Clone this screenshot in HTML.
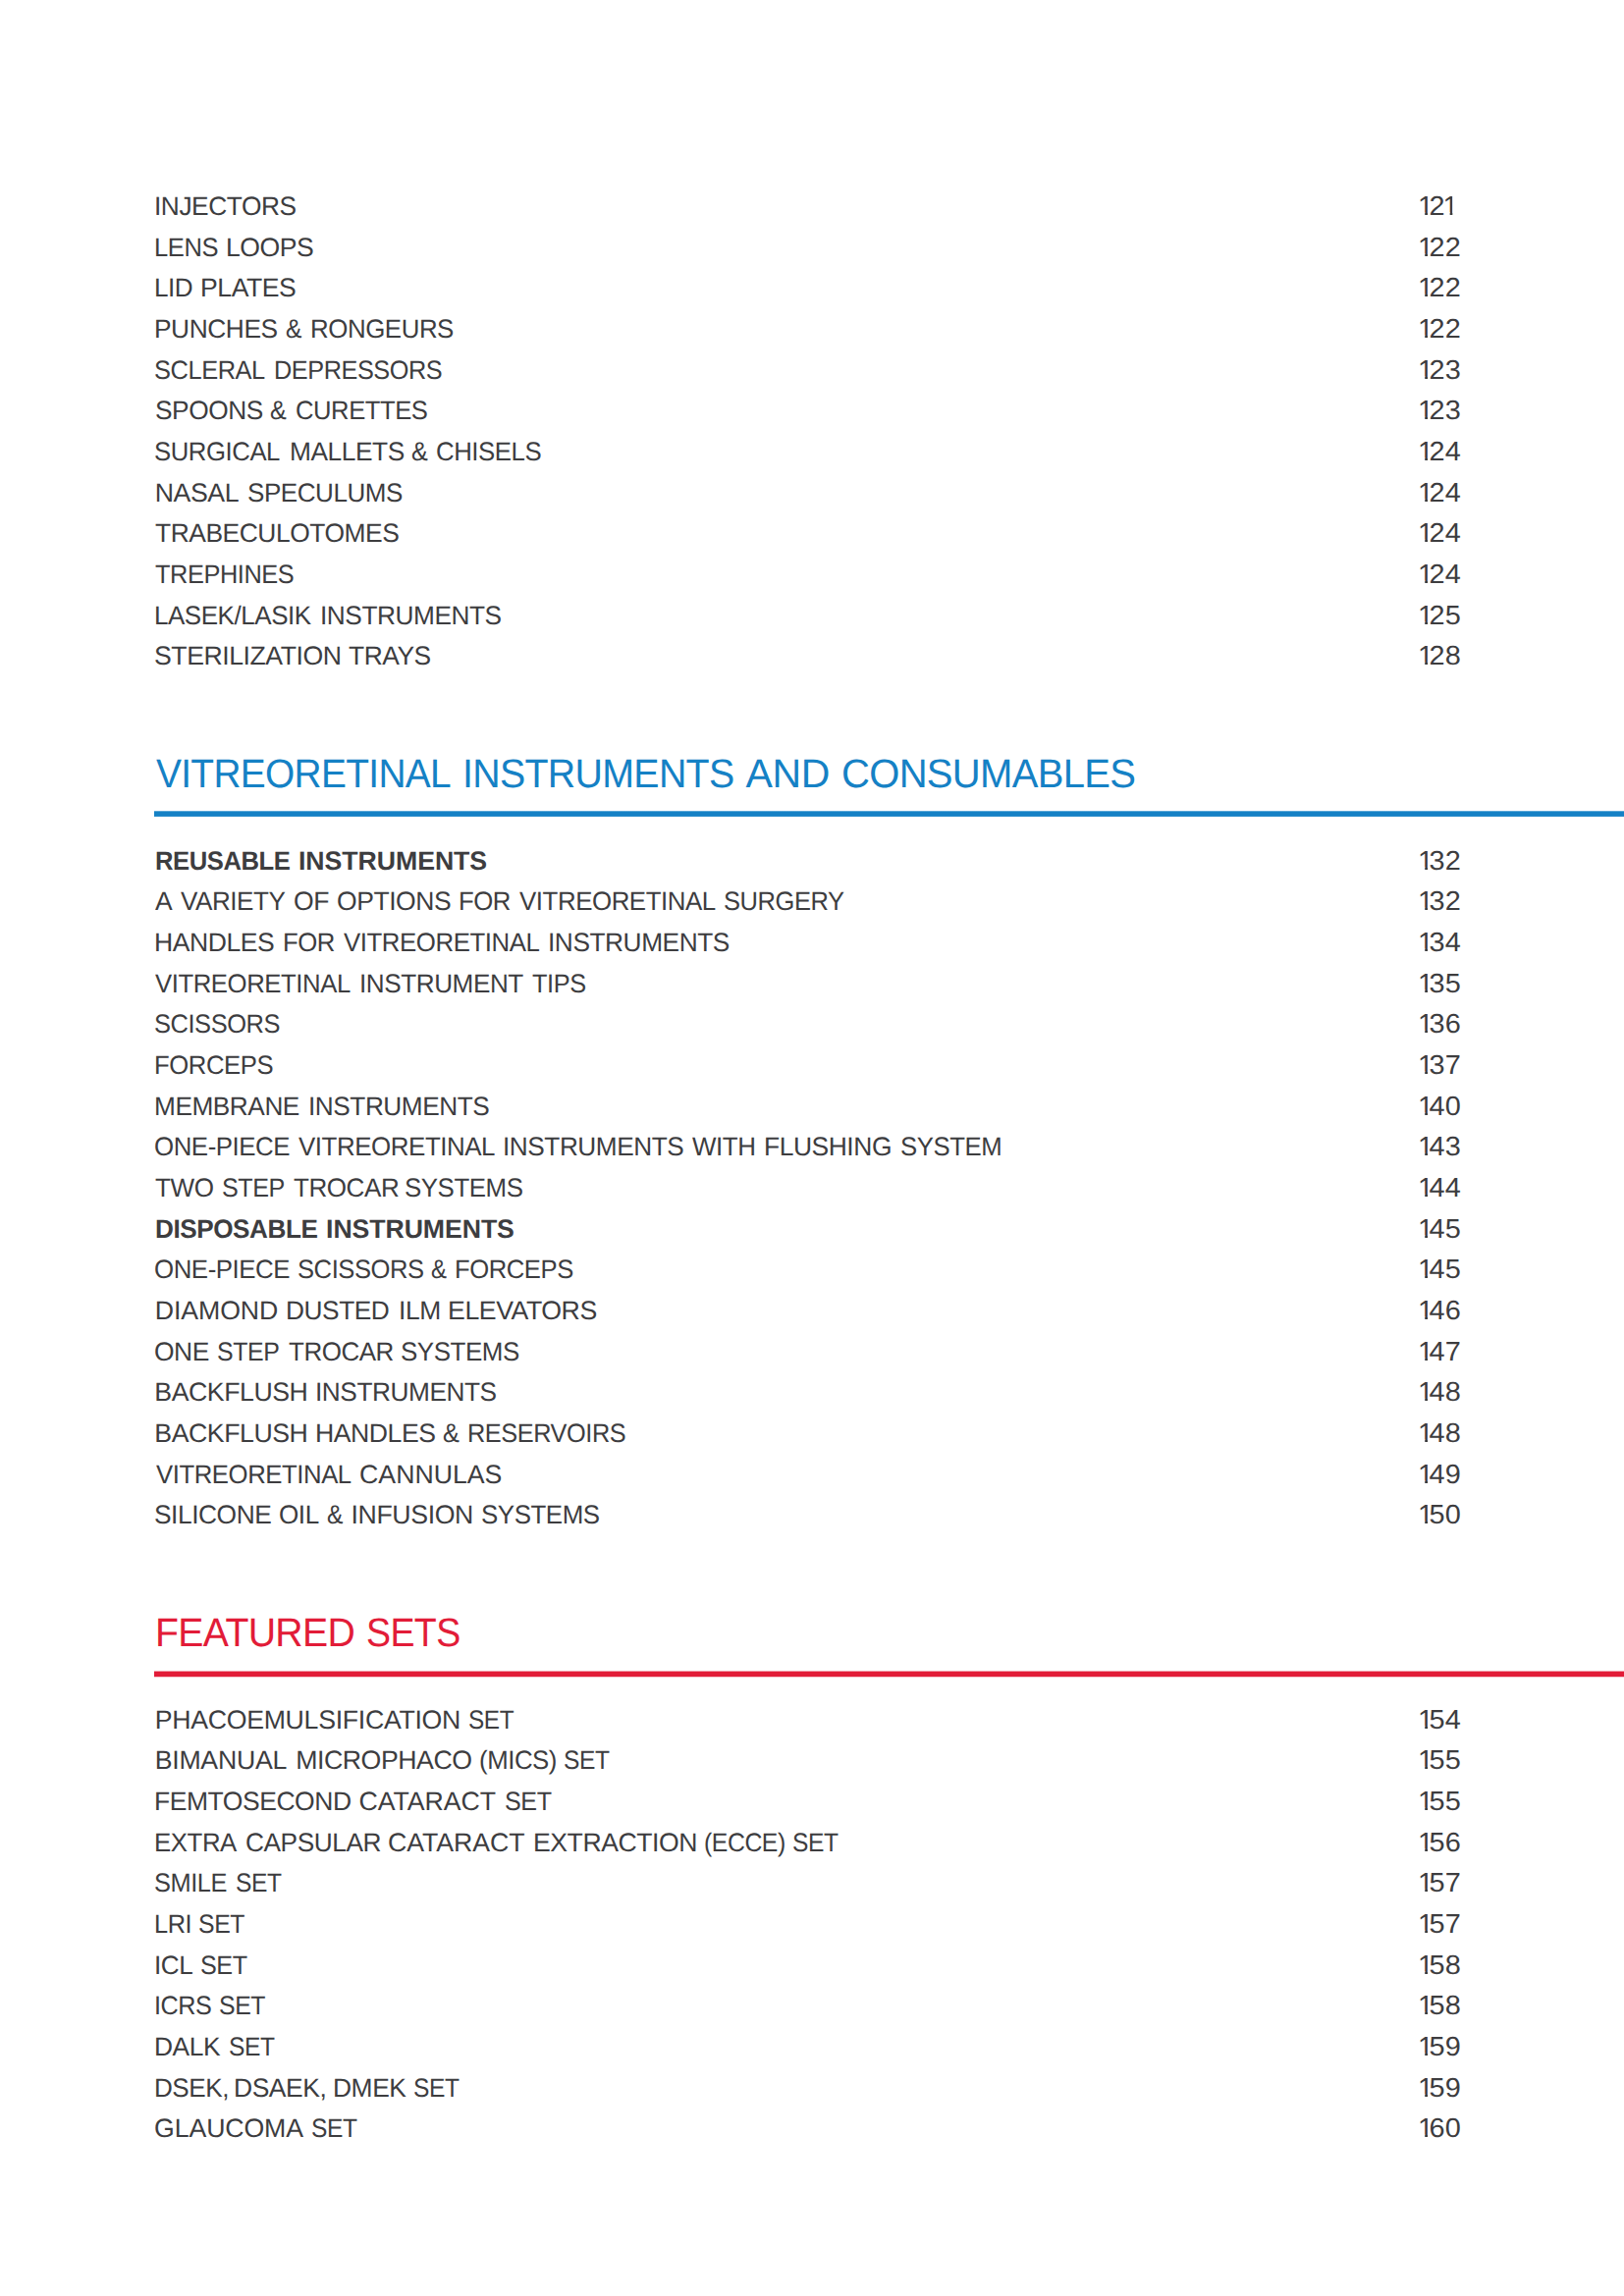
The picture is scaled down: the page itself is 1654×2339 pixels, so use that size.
<!DOCTYPE html>
<html lang="en"><head><meta charset="utf-8"><title>Contents</title>
<style>
html,body{margin:0;padding:0;background:#fff;}
body{width:1654px;height:2339px;position:relative;overflow:hidden;font-family:"Liberation Sans",Arial,sans-serif;color:#3d3d3f;text-rendering:geometricPrecision;}
.r{position:absolute;left:0;width:1654px;height:42px;line-height:42px;font-size:26.70px;white-space:nowrap;}
.r .t{position:absolute;left:157.70px;top:0;}
.r .n{position:absolute;left:1444.1px;top:0;font-size:27.50px;letter-spacing:0.35px;transform:scaleX(1.05);transform-origin:0 0;}
.o{display:inline-block;width:10.9px;clip-path:polygon(-2px 0,9.55px 0,9.55px 100%,6.85px 100%,6.85px 27.3px,-2px 27.3px);}
.o.e{margin-left:-2.3px;}
.b{font-weight:bold;}
.x{display:inline-block;transform-origin:0 50%;}
.h{position:absolute;left:158.00px;height:60px;line-height:60px;font-size:41.00px;white-space:nowrap;}
.rule{position:absolute;left:157px;right:0;}
</style></head><body>
<div class="r" style="top:188.94px"><span class="t"><span class="x" style="letter-spacing:-0.45px;margin-left:-0.51px;transform:scaleX(0.9851)">INJECTORS</span></span><span class="n"><span class="o">1</span>2<span class="o e">1</span></span></div>
<div class="r" style="top:230.61px"><span class="t"><span class="x" style="letter-spacing:-0.45px;margin-left:-1.00px;transform:scaleX(0.9570)">LENS</span> <span class="x" style="letter-spacing:-0.45px;margin-left:-2.04px;transform:scaleX(0.9959)">LOOPS</span></span><span class="n"><span class="o">1</span>22</span></div>
<div class="r" style="top:272.28px"><span class="t"><span class="x" style="letter-spacing:-0.45px;margin-left:-1.00px;transform:scaleX(0.9774)">LID</span> <span class="x" style="letter-spacing:-0.45px;margin-left:-0.64px;transform:scaleX(0.9963)">PLATES</span></span><span class="n"><span class="o">1</span>22</span></div>
<div class="r" style="top:313.94px"><span class="t"><span class="x" style="letter-spacing:-0.45px;margin-left:-1.00px;transform:scaleX(0.9865)">PUNCHES</span> <span class="x" style="letter-spacing:-0.40px;margin-left:-0.73px;transform:scaleX(0.9198)">&amp;</span> <span class="x" style="letter-spacing:-0.45px;margin-left:0.16px;transform:scaleX(0.9689)">RONGEURS</span></span><span class="n"><span class="o">1</span>22</span></div>
<div class="r" style="top:355.61px"><span class="t"><span class="x" style="letter-spacing:-0.45px;margin-left:-0.84px;transform:scaleX(0.9523)">SCLERAL</span> <span class="x" style="letter-spacing:-0.45px;margin-left:-4.19px;transform:scaleX(0.9465)">DEPRESSORS</span></span><span class="n"><span class="o">1</span>23</span></div>
<div class="r" style="top:397.28px"><span class="t"><span class="x" style="letter-spacing:-0.45px;transform:scaleX(0.9842)">SPOONS</span> <span class="x" style="letter-spacing:-0.40px;margin-left:-1.65px;transform:scaleX(0.9392)">&amp;</span> <span class="x" style="letter-spacing:-0.45px;margin-left:0.95px;transform:scaleX(0.9593)">CURETTES</span></span><span class="n"><span class="o">1</span>23</span></div>
<div class="r" style="top:438.94px"><span class="t"><span class="x" style="letter-spacing:-0.45px;margin-left:-0.22px;transform:scaleX(0.9633)">SURGICAL</span> <span class="x" style="letter-spacing:-0.45px;margin-left:-2.99px;transform:scaleX(0.9855)">MALLETS</span> <span class="x" style="letter-spacing:-0.40px;margin-left:-1.44px;transform:scaleX(0.9412)">&amp;</span> <span class="x" style="letter-spacing:-0.45px;margin-left:0.12px;transform:scaleX(0.9661)">CHISELS</span></span><span class="n"><span class="o">1</span>24</span></div>
<div class="r" style="top:480.61px"><span class="t"><span style="letter-spacing:-0.40px">NASAL</span> <span class="x" style="letter-spacing:-0.45px;margin-left:1.24px;transform:scaleX(0.9745)">SPECULUMS</span></span><span class="n"><span class="o">1</span>24</span></div>
<div class="r" style="top:522.28px"><span class="t"><span class="x" style="letter-spacing:-0.45px;margin-left:0.73px;transform:scaleX(0.9888)">TRABECULOTOMES</span></span><span class="n"><span class="o">1</span>24</span></div>
<div class="r" style="top:563.94px"><span class="t"><span class="x" style="letter-spacing:-0.45px;margin-left:0.52px;transform:scaleX(0.9502)">TREPHINES</span></span><span class="n"><span class="o">1</span>24</span></div>
<div class="r" style="top:605.61px"><span class="t"><span class="x" style="letter-spacing:-0.45px;margin-left:-1.00px;transform:scaleX(0.9725)">LASEK/LASIK</span> <span class="x" style="letter-spacing:-0.45px;margin-left:-2.51px;transform:scaleX(0.9834)">INSTRUMENTS</span></span><span class="n"><span class="o">1</span>25</span></div>
<div class="r" style="top:647.28px"><span class="t"><span class="x" style="letter-spacing:-0.45px;margin-left:-0.90px;transform:scaleX(0.9980)">STERILIZATION</span> <span class="x" style="letter-spacing:-0.45px;margin-left:0.26px;transform:scaleX(0.9881)">TRAYS</span></span><span class="n"><span class="o">1</span>28</span></div>
<div class="h" style="top:757.92px;color:#1581c5"><span class="x" style="letter-spacing:-0.70px;margin-left:0.98px;transform:scaleX(0.9474)">VITREORETINAL</span> <span class="x" style="letter-spacing:-0.70px;margin-left:-15.95px;transform:scaleX(0.9586)">INSTRUMENTS</span> <span style="letter-spacing:-0.42px;margin-left:-11.35px">AND</span> <span class="x" style="letter-spacing:-0.70px;margin-left:0.65px;transform:scaleX(0.9758)">CONSUMABLES</span></div>
<div class="rule" style="top:826px;height:6px;background:linear-gradient(to bottom,rgba(21,129,197,0.70) 0 1px,rgb(21,129,197) 1px 5px,rgba(21,129,197,0.90) 5px 6px)"></div>
<div class="r" style="top:855.61px"><span class="t b"><span class="x" style="letter-spacing:-0.45px;transform:scaleX(0.9601)">REUSABLE</span> <span style="letter-spacing:-0.06px;margin-left:-4.30px">INSTRUMENTS</span></span><span class="n"><span class="o">1</span>32</span></div>
<div class="r" style="top:897.28px"><span class="t"><span class="x" style="letter-spacing:-0.40px;margin-left:0.77px;transform:scaleX(0.9908)">A</span> <span class="x" style="letter-spacing:-0.45px;margin-left:0.43px;transform:scaleX(0.9752)">VARIETY</span> <span class="x" style="letter-spacing:-0.45px;margin-left:-1.67px;transform:scaleX(0.9943)">OF</span> <span class="x" style="letter-spacing:-0.45px;margin-left:0.47px;transform:scaleX(0.9932)">OPTIONS</span> <span class="x" style="letter-spacing:-0.45px;margin-left:-0.20px;transform:scaleX(0.9643)">FOR</span> <span class="x" style="letter-spacing:-0.45px;margin-left:0.15px;transform:scaleX(0.9688)">VITREORETINAL</span> <span class="x" style="letter-spacing:-0.45px;margin-left:-6.02px;transform:scaleX(0.9547)">SURGERY</span></span><span class="n"><span class="o">1</span>32</span></div>
<div class="r" style="top:938.94px"><span class="t"><span class="x" style="letter-spacing:-0.45px;margin-left:-0.53px;transform:scaleX(0.9941)">HANDLES</span> <span class="x" style="letter-spacing:-0.45px;margin-left:0.89px;transform:scaleX(0.9637)">FOR</span> <span class="x" style="letter-spacing:-0.45px;margin-left:-1.08px;transform:scaleX(0.9672)">VITREORETINAL</span> <span class="x" style="letter-spacing:-0.45px;margin-left:-5.46px;transform:scaleX(0.9844)">INSTRUMENTS</span></span><span class="n"><span class="o">1</span>34</span></div>
<div class="r" style="top:980.61px"><span class="t"><span class="x" style="letter-spacing:-0.45px;margin-left:0.33px;transform:scaleX(0.9641)">VITREORETINAL</span> <span class="x" style="letter-spacing:-0.45px;margin-left:-5.96px;transform:scaleX(0.9789)">INSTRUMENT</span> <span class="x" style="letter-spacing:-0.45px;margin-left:-1.55px;transform:scaleX(0.9497)">TIPS</span></span><span class="n"><span class="o">1</span>35</span></div>
<div class="r" style="top:1022.28px"><span class="t"><span class="x" style="letter-spacing:-0.45px;margin-left:-0.21px;transform:scaleX(0.9528)">SCISSORS</span></span><span class="n"><span class="o">1</span>36</span></div>
<div class="r" style="top:1063.94px"><span class="t"><span class="x" style="letter-spacing:-0.45px;margin-left:-1.00px;transform:scaleX(0.9623)">FORCEPS</span></span><span class="n"><span class="o">1</span>37</span></div>
<div class="r" style="top:1105.61px"><span class="t"><span class="x" style="letter-spacing:-0.45px;margin-left:-0.66px;transform:scaleX(0.9821)">MEMBRANE</span> <span class="x" style="letter-spacing:-0.45px;margin-left:-1.28px;transform:scaleX(0.9813)">INSTRUMENTS</span></span><span class="n"><span class="o">1</span>40</span></div>
<div class="r" style="top:1147.28px"><span class="t"><span class="x" style="letter-spacing:-0.45px;margin-left:-0.63px;transform:scaleX(0.9675)">ONE-PIECE</span> <span class="x" style="letter-spacing:-0.45px;margin-left:-3.72px;transform:scaleX(0.9703)">VITREORETINAL</span> <span class="x" style="letter-spacing:-0.45px;margin-left:-5.05px;transform:scaleX(0.9814)">INSTRUMENTS</span> <span class="x" style="letter-spacing:-0.45px;margin-left:-2.26px;transform:scaleX(0.9715)">WITH</span> <span class="x" style="letter-spacing:-0.45px;margin-left:-0.65px;transform:scaleX(0.9898)">FLUSHING</span> <span class="x" style="letter-spacing:-0.45px;margin-left:-0.42px;transform:scaleX(0.9638)">SYSTEM</span></span><span class="n"><span class="o">1</span>43</span></div>
<div class="r" style="top:1188.94px"><span class="t"><span class="x" style="letter-spacing:-0.45px;margin-left:0.76px;transform:scaleX(0.9765)">TWO</span> <span class="x" style="letter-spacing:-0.45px;margin-left:-1.16px;transform:scaleX(0.9418)">STEP</span> <span class="x" style="letter-spacing:-0.45px;margin-left:-2.17px;transform:scaleX(0.9751)">TROCAR</span> <span class="x" style="letter-spacing:-0.45px;margin-left:-4.20px;transform:scaleX(0.9685)">SYSTEMS</span></span><span class="n"><span class="o">1</span>44</span></div>
<div class="r" style="top:1230.61px"><span class="t b"><span class="x" style="letter-spacing:-0.45px;transform:scaleX(0.9788)">DISPOSABLE</span> <span style="letter-spacing:-0.09px;margin-left:-2.04px">INSTRUMENTS</span></span><span class="n"><span class="o">1</span>45</span></div>
<div class="r" style="top:1272.28px"><span class="t"><span class="x" style="letter-spacing:-0.45px;margin-left:-0.63px;transform:scaleX(0.9675)">ONE-PIECE</span> <span class="x" style="letter-spacing:-0.45px;margin-left:-4.42px;transform:scaleX(0.9576)">SCISSORS</span> <span class="x" style="letter-spacing:-0.40px;margin-left:-5.18px;transform:scaleX(0.8956)">&amp;</span> <span class="x" style="letter-spacing:-0.45px;margin-left:-1.10px;transform:scaleX(0.9600)">FORCEPS</span></span><span class="n"><span class="o">1</span>45</span></div>
<div class="r" style="top:1313.94px"><span class="t"><span style="letter-spacing:-0.07px">DIAMOND</span> <span class="x" style="letter-spacing:-0.45px;margin-left:0.73px;transform:scaleX(0.9843)">DUSTED</span> <span class="x" style="letter-spacing:-0.45px;margin-left:-0.34px;transform:scaleX(0.9900)">ILM</span> <span style="letter-spacing:-0.45px;margin-left:0.01px">ELEVATORS</span></span><span class="n"><span class="o">1</span>46</span></div>
<div class="r" style="top:1355.61px"><span class="t"><span class="x" style="letter-spacing:-0.45px;margin-left:-0.67px;transform:scaleX(0.9899)">ONE</span> <span class="x" style="letter-spacing:-0.45px;margin-left:-0.18px;transform:scaleX(0.9328)">STEP</span> <span class="x" style="letter-spacing:-0.45px;margin-left:-2.46px;transform:scaleX(0.9722)">TROCAR</span> <span class="x" style="letter-spacing:-0.45px;margin-left:-3.32px;transform:scaleX(0.9715)">SYSTEMS</span></span><span class="n"><span class="o">1</span>47</span></div>
<div class="r" style="top:1397.28px"><span class="t"><span style="letter-spacing:-0.45px;margin-left:-0.39px">BACKFLUSH</span> <span class="x" style="letter-spacing:-0.45px;margin-left:-0.30px;transform:scaleX(0.9833)">INSTRUMENTS</span></span><span class="n"><span class="o">1</span>48</span></div>
<div class="r" style="top:1438.94px"><span class="t"><span style="letter-spacing:-0.45px;margin-left:-0.39px">BACKFLUSH</span> <span class="x" style="letter-spacing:-0.45px;margin-left:-0.35px;transform:scaleX(0.9969)">HANDLES</span> <span class="x" style="letter-spacing:-0.40px;margin-left:0.05px;transform:scaleX(0.9471)">&amp;</span> <span class="x" style="letter-spacing:-0.45px;margin-left:0.13px;transform:scaleX(0.9480)">RESERVOIRS</span></span><span class="n"><span class="o">1</span>48</span></div>
<div class="r" style="top:1480.61px"><span class="t"><span class="x" style="letter-spacing:-0.45px;margin-left:1.00px;transform:scaleX(0.9638)">VITREORETINAL</span> <span style="letter-spacing:0.00px;margin-left:-6.26px">CANNULAS</span></span><span class="n"><span class="o">1</span>49</span></div>
<div class="r" style="top:1522.28px"><span class="t"><span class="x" style="letter-spacing:-0.45px;margin-left:-0.70px;transform:scaleX(0.9862)">SILICONE</span> <span class="x" style="letter-spacing:-0.45px;margin-left:-1.73px;transform:scaleX(0.9776)">OIL</span> <span class="x" style="letter-spacing:-0.40px;margin-left:0.20px;transform:scaleX(0.9198)">&amp;</span> <span style="letter-spacing:-0.40px;margin-left:-0.22px">INFUSION</span> <span class="x" style="letter-spacing:-0.45px;margin-left:1.00px;transform:scaleX(0.9697)">SYSTEMS</span></span><span class="n"><span class="o">1</span>50</span></div>
<div class="h" style="top:1632.92px;color:#e21c38"><span class="x" style="letter-spacing:-0.70px;margin-left:-0.43px;transform:scaleX(0.9571)">FEATURED</span> <span class="x" style="letter-spacing:-0.70px;margin-left:-8.38px;transform:scaleX(0.9164)">SETS</span></div>
<div class="rule" style="top:1702px;height:7px;background:linear-gradient(to bottom,rgba(226,28,56,0.45) 0 1px,rgb(226,28,56) 1px 6px,rgba(226,28,56,0.25) 6px 7px)"></div>
<div class="r" style="top:1730.61px"><span class="t"><span style="letter-spacing:-0.29px">PHACOEMULSIFICATION</span> <span class="x" style="letter-spacing:-0.45px;margin-left:0.09px;transform:scaleX(0.9119)">SET</span></span><span class="n"><span class="o">1</span>54</span></div>
<div class="r" style="top:1772.28px"><span class="t"><span style="letter-spacing:-0.26px">BIMANUAL</span> <span style="letter-spacing:-0.44px;margin-left:1.71px">MICROPHACO</span> <span class="x" style="letter-spacing:-0.45px;margin-left:0.09px;transform:scaleX(0.9654)">(MICS)</span> <span class="x" style="letter-spacing:-0.45px;margin-left:-3.25px;transform:scaleX(0.9205)">SET</span></span><span class="n"><span class="o">1</span>55</span></div>
<div class="r" style="top:1813.94px"><span class="t"><span class="x" style="letter-spacing:-0.45px;margin-left:-1.00px;transform:scaleX(0.9925)">FEMTOSECOND</span> <span style="letter-spacing:-0.03px;margin-left:-0.75px">CATARACT</span> <span class="x" style="letter-spacing:-0.45px;margin-left:1.33px;transform:scaleX(0.9409)">SET</span></span><span class="n"><span class="o">1</span>55</span></div>
<div class="r" style="top:1855.61px"><span class="t"><span class="x" style="letter-spacing:-0.45px;margin-left:-1.00px;transform:scaleX(0.9672)">EXTRA</span> <span class="x" style="letter-spacing:-0.45px;margin-left:-0.97px;transform:scaleX(0.9837)">CAPSULAR</span> <span style="letter-spacing:-0.05px;margin-left:-2.62px">CATARACT</span> <span class="x" style="letter-spacing:-0.45px;margin-left:0.91px;transform:scaleX(0.9967)">EXTRACTION</span> <span class="x" style="letter-spacing:-0.45px;margin-left:-0.58px;transform:scaleX(0.9280)">(ECCE)</span> <span class="x" style="letter-spacing:-0.45px;margin-left:-6.46px;transform:scaleX(0.9212)">SET</span></span><span class="n"><span class="o">1</span>56</span></div>
<div class="r" style="top:1897.28px"><span class="t"><span class="x" style="letter-spacing:-0.45px;margin-left:-0.67px;transform:scaleX(0.9501)">SMILE</span> <span class="x" style="letter-spacing:-0.45px;margin-left:-2.08px;transform:scaleX(0.9206)">SET</span></span><span class="n"><span class="o">1</span>57</span></div>
<div class="r" style="top:1938.95px"><span class="t"><span class="x" style="letter-spacing:-0.45px;margin-left:-1.00px;transform:scaleX(0.9491)">LRI</span> <span class="x" style="letter-spacing:-0.45px;margin-left:-2.57px;transform:scaleX(0.9297)">SET</span></span><span class="n"><span class="o">1</span>57</span></div>
<div class="r" style="top:1980.61px"><span class="t"><span class="x" style="letter-spacing:-0.45px;margin-left:-1.00px;transform:scaleX(0.9764)">ICL</span> <span class="x" style="letter-spacing:-0.45px;margin-left:-0.40px;transform:scaleX(0.9430)">SET</span></span><span class="n"><span class="o">1</span>58</span></div>
<div class="r" style="top:2022.28px"><span class="t"><span class="x" style="letter-spacing:-0.45px;margin-left:-0.70px;transform:scaleX(0.9436)">ICRS</span> <span class="x" style="letter-spacing:-0.45px;margin-left:-3.52px;transform:scaleX(0.9316)">SET</span></span><span class="n"><span class="o">1</span>58</span></div>
<div class="r" style="top:2063.95px"><span class="t"><span class="x" style="letter-spacing:-0.45px;margin-left:-1.00px;transform:scaleX(0.9872)">DALK</span> <span class="x" style="letter-spacing:-0.45px;margin-left:1.20px;transform:scaleX(0.9215)">SET</span></span><span class="n"><span class="o">1</span>59</span></div>
<div class="r" style="top:2105.61px"><span class="t"><span class="x" style="letter-spacing:-0.45px;margin-left:-1.00px;transform:scaleX(0.9761)">DSEK,</span> <span class="x" style="letter-spacing:-0.45px;margin-left:-3.69px;transform:scaleX(0.9916)">DSAEK,</span> <span class="x" style="letter-spacing:-0.45px;margin-left:-2.40px;transform:scaleX(0.9884)">DMEK</span> <span class="x" style="letter-spacing:-0.45px;margin-left:-0.16px;transform:scaleX(0.9210)">SET</span></span><span class="n"><span class="o">1</span>59</span></div>
<div class="r" style="top:2147.28px"><span class="t"><span style="letter-spacing:-0.11px;margin-left:-0.64px">GLAUCOMA</span> <span class="x" style="letter-spacing:-0.45px;margin-left:0.35px;transform:scaleX(0.9207)">SET</span></span><span class="n"><span class="o">1</span>60</span></div>
</body></html>
